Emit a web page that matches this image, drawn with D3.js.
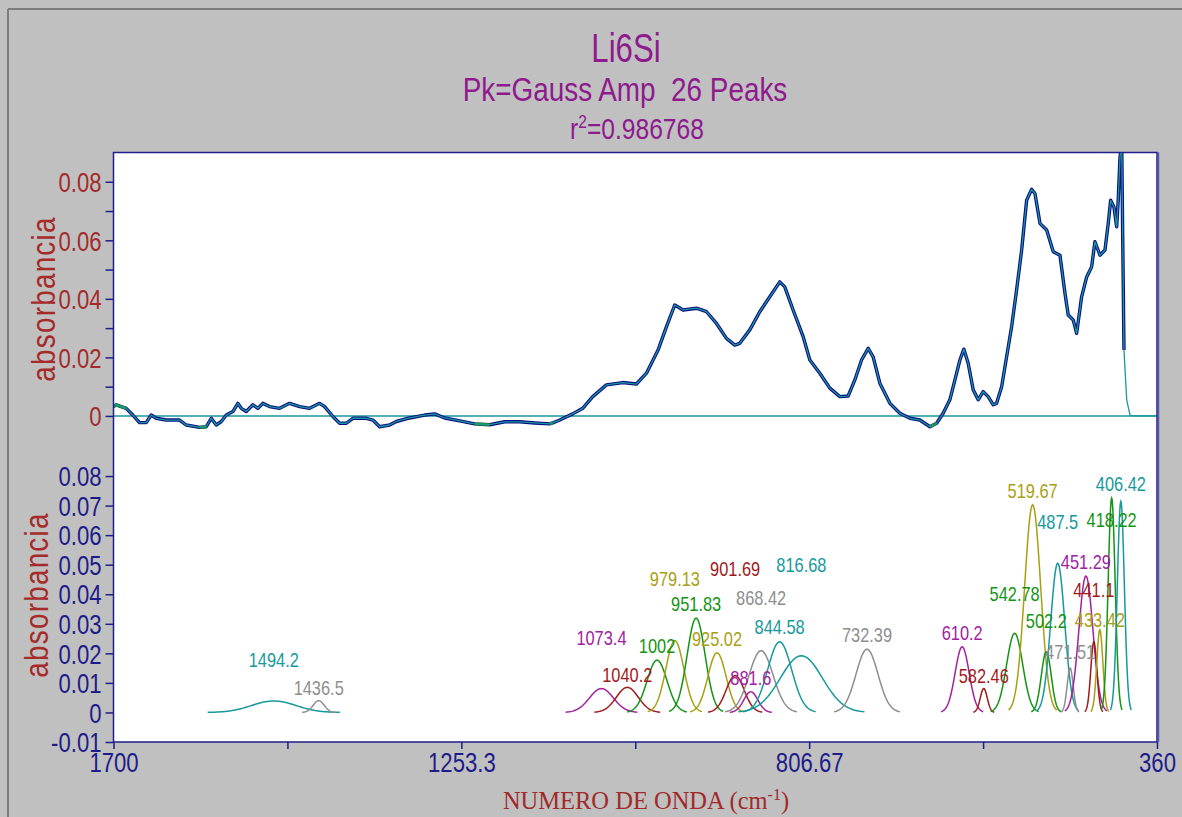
<!DOCTYPE html>
<html>
<head>
<meta charset="utf-8">
<script src="https://cdn.jsdelivr.net/npm/d3@7/dist/d3.min.js"></script>
<style>
  html, body { margin: 0; padding: 0; background: #c0c0c0; }
  svg { display: block; font-family: "Liberation Sans", Arial, sans-serif; }
</style>
</head>
<body>
<svg id="chart" width="1182" height="817"></svg>
<script>
// ---- measured spectrum (wavenumber cm-1, absorbance) ----
const specWn = [1700, 1696.5, 1683.7, 1675.2, 1666.6, 1658.0, 1651.6, 1645.1, 1632.3, 1615.2,
  1606.6, 1589.5, 1580.9, 1574.5, 1568.1, 1561.6, 1555.2, 1546.7, 1540.3, 1535.9,
  1529.5, 1521.0, 1514.6, 1508.2, 1499.6, 1486.7, 1473.9, 1461.0, 1448.2, 1435.3,
  1428.9, 1418.3, 1409.6, 1401.0, 1392.6, 1375.3, 1366.9, 1358.3, 1345.4, 1336.8,
  1319.7, 1300.4, 1287.6, 1274.7, 1255.5, 1236.2, 1216.9, 1197.7, 1178.4, 1159.1,
  1139.8, 1136.0, 1127.0, 1110.3, 1097.5, 1084.6, 1067.0, 1046.1, 1028.5, 1015.6,
  1000.7, 989.9, 979.3, 968.6, 951.4, 938.5, 925.7, 912.9, 902.2, 895.8,
  882.9, 870.1, 857.2, 844.4, 838.0, 827.3, 814.4, 805.8, 793.0, 780.1,
  767.3, 756.6, 748.0, 739.4, 730.9, 724.5, 715.9, 703.0, 690.2, 677.3,
  664.5, 651.6, 643.0, 634.6, 626.0, 619.5, 613.1, 608.0, 602.5, 596.0,
  589.6, 583.2, 576.8, 570.3, 566.0, 559.5, 553.1, 546.7, 540.3, 533.8,
  527.4, 521.0, 516.7, 510.3, 501.7, 493.2, 484.6, 478.2, 474.0, 467.6,
  463.2, 456.8, 450.3, 443.9, 439.7, 433.2, 426.8, 422.6, 419.5, 415.3,
  411.8, 409.8, 407.5, 405.3, 404.0, 402.4, 398.9, 394.7, 390.4, 360];
const specAbs = [0.0032, 0.0038, 0.0026, 0.0003, -0.0023, -0.0023, 0.0003, -0.0008, -0.0014, -0.0014,
  -0.0031, -0.0039, -0.0037, -0.0008, -0.0031, -0.0019, 0.0003, 0.0015, 0.0043, 0.0026,
  0.0015, 0.0038, 0.0026, 0.0043, 0.0032, 0.0026, 0.0043, 0.0032, 0.0026, 0.0043,
  0.0032, -0.0002, -0.0025, -0.0025, -0.0008, -0.0008, -0.0014, -0.0037, -0.0031, -0.0019,
  -0.0007, 0.0003, 0.0007, -0.0007, -0.0017, -0.0027, -0.0030, -0.0020, -0.0020, -0.0024,
  -0.0027, -0.0024, -0.0014, 0.0007, 0.0026, 0.0066, 0.0106, 0.0114, 0.0109, 0.0146,
  0.0225, 0.0305, 0.0379, 0.0362, 0.0368, 0.0356, 0.0316, 0.0265, 0.0242, 0.0248,
  0.0294, 0.0356, 0.0407, 0.0458, 0.0441, 0.0362, 0.0271, 0.0191, 0.0146, 0.0095,
  0.0066, 0.0068, 0.0123, 0.0191, 0.0231, 0.0202, 0.0112, 0.0043, 0.0009, -0.0008,
  -0.0014, -0.0037, -0.0025, 0.0009, 0.0055, 0.0123, 0.0191, 0.0228, 0.0180, 0.0089,
  0.0055, 0.0083, 0.0066, 0.0038, 0.0043, 0.0100, 0.0202, 0.0305, 0.0430, 0.0567,
  0.0737, 0.0774, 0.0760, 0.0658, 0.0635, 0.0561, 0.0549, 0.0419, 0.0345, 0.0328,
  0.0282, 0.0407, 0.0475, 0.0510, 0.0595, 0.0549, 0.0567, 0.0658, 0.0737, 0.0714,
  0.0646, 0.0737, 0.0885, 0.0930, 0.0600, 0.0225, 0.0055, 0.0003, 0, 0];
// stretches of the trace shown in green
const greenRanges = [[1700, 1680], [1603, 1576], [1546, 1537], [1237, 1215], [1145, 1128], [696, 680], [662, 638]];

// ---- fitted Gaussian components ----
const peakCenters = [1494.2, 1436.5, 1073.4, 1040.2, 1002, 979.13, 951.83, 925.02, 901.69, 881.6,
  868.42, 844.58, 816.68, 732.39, 610.2, 582.46, 542.78, 519.67, 502.2, 487.5,
  471.51, 451.29, 441.1, 433.42, 418.22, 406.42];
const peakLabels = ["1494.2", "1436.5", "1073.4", "1040.2", "1002", "979.13", "951.83", "925.02", "901.69", "881.6",
  "868.42", "844.58", "816.68", "732.39", "610.2", "582.46", "542.78", "519.67", "502.2", "487.5",
  "471.51", "451.29", "441.1", "433.42", "418.22", "406.42"];
const peakAmps = [0.0039, 0.0040, 0.0081, 0.0085, 0.0177, 0.0243, 0.0319, 0.0202, 0.0125, 0.0070,
  0.0209, 0.0239, 0.0192, 0.0214, 0.0222, 0.0081, 0.0268, 0.0703, 0.0205, 0.0505,
  0.0150, 0.0462, 0.0239, 0.0280, 0.0725, 0.0714];
const peakSigmas = [28.3, 7.1, 15.4, 14.1, 12.8, 11.6, 11.6, 11.6, 11.6, 9.0,
  15.4, 15.4, 27.0, 14.1, 9.0, 4.5, 10.3, 10.3, 6.4, 9.0,
  3.9, 9.0, 3.9, 3.9, 4.5, 4.5];
const peakHues = ["teal", "gray", "purple", "maroon", "green", "olive", "green", "olive", "maroon", "purple",
  "gray", "teal", "teal", "gray", "purple", "maroon", "green", "olive", "green", "teal",
  "gray", "purple", "maroon", "olive", "green", "teal"];

// axis ticks
const xTickValues = [1700, 1476.67, 1253.3, 1030, 806.67, 583.33, 360];
const xTickLabels = ["1700", "", "1253.3", "", "806.67", "", "360"];
const yTopTicks = [0, 0.01, 0.02, 0.03, 0.04, 0.05, 0.06, 0.07, 0.08];
const yTopLabels = ["0", "", "0.02", "", "0.04", "", "0.06", "", "0.08"];
const yBotTicks = [-0.01, 0, 0.01, 0.02, 0.03, 0.04, 0.05, 0.06, 0.07, 0.08];
const yBotLabels = ["-0.01", "0", "0.01", "0.02", "0.03", "0.04", "0.05", "0.06", "0.07", "0.08"];

// ---- layout ----
const palette = {
  teal: "#16999b", gray: "#8e8e8e", purple: "#a0229f", maroon: "#a11a1a",
  green: "#149414", olive: "#a8a012"
};
// vertical lift of each peak label above its peak top (px)
const labelLift = [41, 13, 51, 12, 14, 62, 14, 14, 107, 14,
  53, 15, 91, 14, 14, 13, 39, 14, 31, 41,
  16, 14, 52, 10, -22, 17];
const SQUEEZE = 0.82;   // horizontal compression of the condensed lettering

const L = 113.5, R = 1157, T = 152.5, B = 742;
const svg = d3.select("#chart");

// turn x/y placement into a translate so the glyphs can be narrowed
function condense(sel, sx) {
  sel.each(function () {
    const tx = +this.getAttribute("x") || 0, ty = +this.getAttribute("y") || 0;
    d3.select(this).attr("x", null).attr("y", null)
      .attr("transform", `translate(${tx},${ty}) scale(${sx},1)`);
  });
}

// window chrome
svg.append("rect").attr("width", 1182).attr("height", 817).attr("fill", "#c0c0c0");
svg.append("line").attr("x1", 8).attr("x2", 1182).attr("y1", 9).attr("y2", 9).attr("stroke", "#7c7c7c").attr("stroke-width", 2);
svg.append("line").attr("x1", 8).attr("x2", 8).attr("y1", 9).attr("y2", 817).attr("stroke", "#7c7c7c").attr("stroke-width", 2);

// plot area
svg.append("rect").attr("x", L).attr("y", T).attr("width", R - L).attr("height", B - T).attr("fill", "#fff");

const x = d3.scaleLinear().domain([1700, 360]).range([L, R]);
const yTop = d3.scaleLinear().domain([-0.01, 0.09]).range([445.2, T]);
const yBot = d3.scaleLinear().domain([-0.01, 0.09]).range([B, 446.5]);

svg.append("clipPath").attr("id", "clipTop").append("rect").attr("x", L).attr("y", T).attr("width", R - L).attr("height", 445 - T);

// ---- top panel: spectrum and fit ----
const spec = specWn.map((w, i) => ({ w, a: specAbs[i] }));
const lineTop = d3.line().x(d => x(d.w)).y(d => yTop(d.a));
const gTop = svg.append("g").attr("clip-path", "url(#clipTop)");

gTop.append("line").attr("x1", x(1700)).attr("x2", x(360)).attr("y1", yTop(0)).attr("y2", yTop(0))
  .attr("stroke", palette.teal).attr("stroke-width", 1.5);

gTop.append("path").datum(spec.filter(d => d.w >= 402))
  .attr("d", lineTop).attr("fill", "none").attr("stroke", "#0c0c84").attr("stroke-width", 3.4)
  .attr("stroke-linejoin", "round");

greenRanges.forEach(([a, b]) => {
  const seg = spec.filter(d => d.w <= a && d.w >= b);
  gTop.append("path").datum(seg).attr("d", lineTop).attr("fill", "none")
    .attr("stroke", "#1c9a1c").attr("stroke-width", 2.8).attr("stroke-linejoin", "round");
});

gTop.append("path").datum(spec)
  .attr("d", lineTop).attr("fill", "none").attr("stroke", palette.teal).attr("stroke-width", 1.3)
  .attr("stroke-linejoin", "round");

// ---- bottom panel: individual Gaussian components ----
const gBot = svg.append("g");
const peaks = peakCenters.map((c, i) => ({
  c, amp: peakAmps[i], s: peakSigmas[i], label: peakLabels[i], color: palette[peakHues[i]], lift: labelLift[i]
}));
const lineBot = d3.line().x(d => x(d[0])).y(d => yBot(d[1]));
peaks.forEach(p => {
  const pts = d3.range(-3, 3.0001, 0.1).map(k => {
    const w = p.c + k * p.s;
    return [w, p.amp * Math.exp(-0.5 * k * k)];
  });
  gBot.append("path").datum(pts).attr("d", lineBot).attr("fill", "none")
    .attr("stroke", p.color).attr("stroke-width", 1.5);
});
peaks.forEach(p => {
  gBot.append("text")
    .attr("x", x(p.c)).attr("y", yBot(p.amp) - p.lift + 7)
    .attr("text-anchor", "middle").attr("font-size", 20)
    .attr("fill", p.color).text(p.label)
    .call(condense, SQUEEZE);
});

// ---- frame ----
const frameColor = "#1e1e8c";
svg.append("rect").attr("x", L).attr("y", T).attr("width", R - L).attr("height", B - T)
  .attr("fill", "none").attr("stroke", frameColor).attr("stroke-width", 1.5);
svg.append("line").attr("x1", R + 1.5).attr("x2", R + 1.5).attr("y1", T).attr("y2", B)
  .attr("stroke", "#5a5aa8").attr("stroke-width", 1.5);

// ---- axes ----
function styleAxis(g, color, size) {
  g.select(".domain").remove();
  g.attr("font-family", null).attr("font-size", null);
  g.selectAll(".tick line").attr("stroke", frameColor).attr("stroke-width", 1.5);
  g.selectAll(".tick text").attr("fill", color).attr("font-size", size);
}

const axTop = svg.append("g").attr("transform", `translate(${L},0)`)
  .call(d3.axisLeft(yTop).tickValues(yTopTicks).tickSize(8).tickPadding(4)
    .tickFormat((d, i) => yTopLabels[i]));
styleAxis(axTop, "#a32b2b", 27);
axTop.selectAll(".tick text").attr("dy", "0.36em").call(condense, SQUEEZE);

const axBot = svg.append("g").attr("transform", `translate(${L},0)`)
  .call(d3.axisLeft(yBot).tickValues(yBotTicks).tickSize(8).tickPadding(4)
    .tickFormat((d, i) => yBotLabels[i]));
styleAxis(axBot, "#1c1c8a", 27);
axBot.selectAll(".tick text").attr("dy", "0.36em").call(condense, SQUEEZE);

const axX = svg.append("g").attr("transform", `translate(0,${B})`)
  .call(d3.axisBottom(x).tickValues(xTickValues).tickSize(7).tickPadding(4)
    .tickFormat((d, i) => xTickLabels[i]));
styleAxis(axX, "#1c1c8a", 27);
axX.selectAll(".tick text").call(condense, SQUEEZE);

// ---- titles ----
const purple = "#8e1a8e";
svg.append("text").attr("x", 626).attr("y", 62).attr("text-anchor", "middle")
  .attr("font-size", 41).attr("fill", purple).text("Li6Si").call(condense, 0.76);
svg.append("text").attr("x", 625).attr("y", 101).attr("text-anchor", "middle")
  .attr("font-size", 34).attr("fill", purple).style("white-space", "pre").text("Pk=Gauss Amp  26 Peaks")
  .call(condense, SQUEEZE);
const r2 = svg.append("text").attr("x", 637).attr("y", 139).attr("text-anchor", "middle")
  .attr("font-size", 30).attr("fill", purple);
r2.append("tspan").text("r");
r2.append("tspan").attr("font-size", 19).attr("dy", -11).text("2");
r2.append("tspan").attr("dy", 11).text("=0.986768");
r2.call(condense, SQUEEZE);

// y-axis titles
const yTitleColor = "#a52a2a";
[[55, 299], [48, 595]].forEach(([tx, ty]) => {
  svg.append("text").attr("transform", `translate(${tx},${ty}) rotate(-90) scale(${SQUEEZE},1)`)
    .attr("text-anchor", "middle").attr("font-size", 34)
    .attr("letter-spacing", 1.5).attr("fill", yTitleColor).text("absorbancia");
});

// x-axis title (serif)
const xt = svg.append("text").attr("x", 646).attr("y", 809).attr("text-anchor", "middle")
  .style("font-family", "'Liberation Serif', 'Times New Roman', serif").attr("font-size", 24.5)
  .attr("fill", "#a02a2a");
xt.append("tspan").text("NUMERO DE ONDA (cm");
xt.append("tspan").attr("font-size", 16).attr("dy", -9).text("-1");
xt.append("tspan").attr("dy", 9).text(")");
</script>
</body>
</html>
